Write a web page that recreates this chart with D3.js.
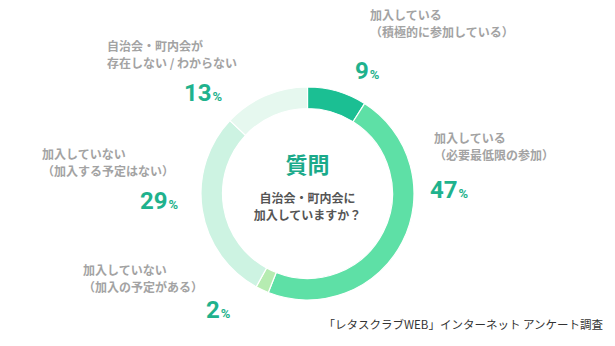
<!DOCTYPE html>
<html><head><meta charset="utf-8">
<script src="https://cdn.jsdelivr.net/npm/d3@7"></script>
<style>
html,body{margin:0;padding:0;background:#fff;}
svg{display:block;font-family:"Noto Sans CJK JP","Noto Sans",sans-serif;}
</style></head>
<body><svg id="chart" width="615" height="346"></svg>
<script>
// Data
const categories = [
  ["加入している", "（積極的に参加している）"],
  ["加入している", "（必要最低限の参加）"],
  ["加入していない", "（加入の予定がある）"],
  ["加入していない", "（加入する予定はない）"],
  ["自治会・町内会が", "存在しない / わからない"]
];
const values = [9, 47, 2, 29, 13];
const colors = ["#1bbf93", "#5ee0a6", "#b6ecb1", "#cdf3e2", "#e6f8ef"];
const title = "質問";
const question = ["自治会・町内会に", "加入していますか？"];
const source = "「レタスクラブWEB」インターネット アンケート調査";

// Layout (label anchors: text x, first line y, percent x, percent baseline)
const labelLayout = [
  {tx: 370, ty: 20, px: 355, py: 79},
  {tx: 434, ty: 143, px: 430, py: 198},
  {tx: 83, ty: 275, px: 206, py: 318},
  {tx: 42, ty: 159, px: 140, py: 209},
  {tx: 107, ty: 51, px: 184, py: 101}
];
const lineGap = 17;

const svg = d3.select("#chart");
const cx = 307.5, cy = 193.5, rOuter = 106.5, rInner = 85;
const g = svg.append("g").attr("transform", `translate(${cx},${cy})`);

const pie = d3.pie().sort(null).value(d => d);
const arc = d3.arc().innerRadius(rInner).outerRadius(rOuter);
g.selectAll("path").data(pie(values)).join("path")
  .attr("d", arc)
  .attr("fill", (d, i) => colors[i])
  .attr("stroke", "#fff").attr("stroke-width", 1.2);

g.append("text").attr("x", 0).attr("y", -21).attr("text-anchor", "middle")
  .attr("font-size", 22).attr("font-weight", 700).attr("fill", "#1aaa8a").text(title);
question.forEach((q, i) => {
  g.append("text").attr("x", 0).attr("y", 9 + i * 17).attr("text-anchor", "middle")
    .attr("font-size", 12).attr("font-weight", 700).attr("fill", "#555").text(q);
});

const gray = "#a3a3a3";
categories.forEach((lines, i) => {
  const L = labelLayout[i];
  lines.forEach((ln, j) => {
    svg.append("text").attr("x", L.tx).attr("y", L.ty + j * lineGap)
      .attr("font-size", 12).attr("font-weight", 700).attr("fill", gray)
      .attr("textLength", null).text(ln);
  });
  const t = svg.append("text").attr("x", L.px).attr("y", L.py)
    .attr("font-family", "Roboto, 'Noto Sans', sans-serif")
    .attr("font-weight", 700).attr("fill", "#1fb28d");
  t.append("tspan").attr("font-size", 24).text(values[i]);
  t.append("tspan").attr("font-size", 13).attr("dx", 1).text("%");
});

svg.append("text").attr("x", 603).attr("y", 329).attr("text-anchor", "end")
  .attr("font-size", 11.5).attr("fill", "#333").text(source);
</script>
</body></html>
